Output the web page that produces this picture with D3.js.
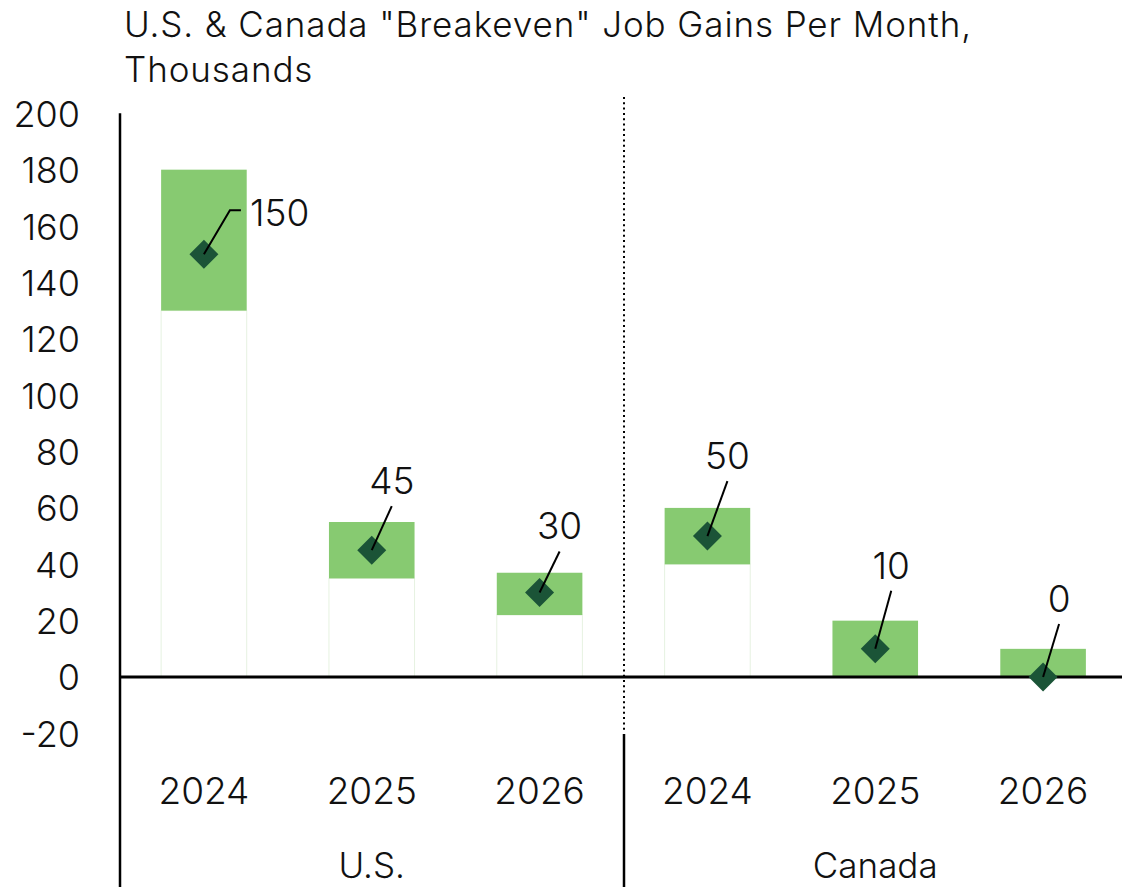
<!DOCTYPE html>
<html>
<head>
<meta charset="utf-8">
<script src="https://cdn.jsdelivr.net/npm/d3@7"></script>
<style>
  html, body { margin: 0; padding: 0; background: #fff; }
  svg { display: block; font-family: Inter, "Noto Sans", sans-serif; font-weight: 300; }
</style>
</head>
<body>
<svg id="chart" width="1122" height="887"></svg>
<script>
// Forecast years, grouped by country
const categories = ["2024", "2025", "2026", "2024", "2025", "2026"];
const groups = ["U.S.", "Canada"];
const groupOf = [0, 0, 0, 1, 1, 1];

// Estimated range of breakeven job gains (thousands per month)
const rangeLow = [130, 35, 22, 40, 0, 0];
const rangeHigh = [180, 55, 37, 60, 20, 10];
// Point estimate
const breakeven = [150, 45, 30, 50, 10, 0];

const yTicks = [-20, 0, 20, 40, 60, 80, 100, 120, 140, 160, 180, 200];

// Leader-line placement for each value label (pixel offsets from the marker)
const leaderOffsets = [
  { dx: 26, dy: -44, hx: 11 },
  { dx: 20, dy: -44 },
  { dx: 20, dy: -41 },
  { dx: 20, dy: -55 },
  { dx: 16, dy: -58 },
  { dx: 16, dy: -53 }
];

const svg = d3.select("#chart");
const left = 120, right = 1127;
const ink = "#111";

const x = d3.scaleBand()
  .domain(d3.range(categories.length))
  .range([left, right])
  .paddingInner(0.49)
  .paddingOuter(0.245);

const y = d3.scaleLinear().domain([-20, 200]).range([733.4, 113.3]);

const barColor = "#87ca71";
const markColor = "#1b5437";

// Title
const title = svg.append("text")
  .attr("font-size", 35)
  .attr("letter-spacing", 0.9)
  .attr("fill", ink);
title.append("tspan").attr("x", 124).attr("y", 37).text("U.S. & Canada \"Breakeven\" Job Gains Per Month,");
title.append("tspan").attr("x", 124).attr("y", 82).text("Thousands");

// Y axis tick labels
const yAxis = d3.axisLeft(y)
  .tickValues(yTicks)
  .tickFormat(d => String(d))
  .tickSize(0)
  .tickPadding(40);
const yg = svg.append("g").attr("transform", `translate(${left},0)`).call(yAxis);
yg.select(".domain").remove();
yg.attr("font-family", null).attr("font-size", null);
yg.selectAll("text")
  .attr("font-size", 36)
  .attr("fill", ink)
  .attr("dy", "0.36em");

// Invisible base of each range bar (white with a faint outline)
svg.append("g").selectAll("rect")
  .data(categories)
  .join("rect")
  .attr("x", (d, i) => x(i))
  .attr("width", x.bandwidth())
  .attr("y", (d, i) => y(rangeLow[i]))
  .attr("height", (d, i) => y(0) - y(rangeLow[i]))
  .attr("fill", "#fff")
  .attr("stroke", "#e6f2e1")
  .attr("stroke-width", 1);

// Range bars
svg.append("g").selectAll("rect")
  .data(categories)
  .join("rect")
  .attr("x", (d, i) => x(i))
  .attr("width", x.bandwidth())
  .attr("y", (d, i) => y(rangeHigh[i]))
  .attr("height", (d, i) => y(rangeLow[i]) - y(rangeHigh[i]))
  .attr("fill", barColor);

// Zero line
svg.append("line")
  .attr("x1", left).attr("x2", 1122)
  .attr("y1", y(0)).attr("y2", y(0))
  .attr("stroke", "#000").attr("stroke-width", 3);

// Left axis line
svg.append("line")
  .attr("x1", left).attr("x2", left)
  .attr("y1", y(200)).attr("y2", 887)
  .attr("stroke", "#000").attr("stroke-width", 2.5);

// Group separator
const sepX = Math.round(x(3) - x.step() * x.paddingInner() / 2);
svg.append("line")
  .attr("x1", sepX).attr("x2", sepX)
  .attr("y1", 97).attr("y2", 730)
  .attr("stroke", "#000").attr("stroke-width", 2)
  .attr("stroke-dasharray", "2,3.3");
svg.append("line")
  .attr("x1", sepX).attr("x2", sepX)
  .attr("y1", 734).attr("y2", 887)
  .attr("stroke", "#000").attr("stroke-width", 2.5);

// Markers
svg.append("g").selectAll("path")
  .data(categories)
  .join("path")
  .attr("d", d3.symbol(d3.symbolSquare, 420)())
  .attr("transform", (d, i) => `translate(${x(i) + x.bandwidth() / 2},${y(breakeven[i])}) rotate(45)`)
  .attr("fill", markColor);

// Leader lines and value labels
const labels = svg.append("g");
categories.forEach((c, i) => {
  const cx = x(i) + x.bandwidth() / 2;
  const cy = y(breakeven[i]);
  const o = leaderOffsets[i];
  const ex = cx + o.dx, ey = cy + o.dy;
  const pts = [[cx, cy], [ex, ey]];
  if (o.hx) pts.push([ex + o.hx, ey]);
  labels.append("path")
    .attr("d", d3.line()(pts))
    .attr("fill", "none")
    .attr("stroke", "#000")
    .attr("stroke-width", 2);
  if (o.hx) {
    labels.append("text")
      .attr("x", ex + o.hx + 9)
      .attr("y", ey + 16)
      .attr("font-size", 37)
      .attr("fill", ink)
      .text(breakeven[i]);
  } else {
    labels.append("text")
      .attr("x", ex)
      .attr("y", ey - 12)
      .attr("text-anchor", "middle")
      .attr("font-size", 37)
      .attr("fill", ink)
      .text(breakeven[i]);
  }
});

// Category labels
svg.append("g").selectAll("text")
  .data(categories)
  .join("text")
  .attr("x", (d, i) => x(i) + x.bandwidth() / 2)
  .attr("y", 804)
  .attr("text-anchor", "middle")
  .attr("font-size", 37)
  .attr("fill", ink)
  .text(d => d);

// Group labels
svg.append("g").selectAll("text")
  .data(groups)
  .join("text")
  .attr("x", (g, gi) => {
    const idx = d3.range(categories.length).filter(i => groupOf[i] === gi);
    return (x(idx[0]) + x(idx[idx.length - 1]) + x.bandwidth()) / 2;
  })
  .attr("y", 878)
  .attr("text-anchor", "middle")
  .attr("font-size", 35)
  .attr("fill", ink)
  .text(d => d);
</script>
</body>
</html>
